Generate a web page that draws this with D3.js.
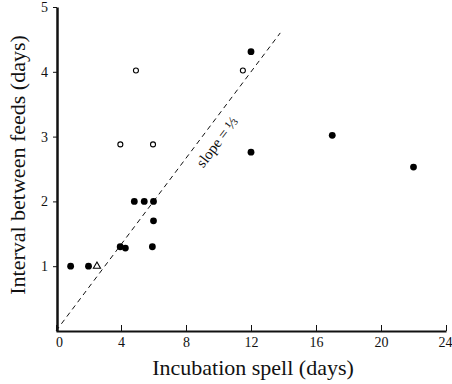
<!DOCTYPE html>
<html>
<head>
<meta charset="utf-8">
<script src="https://cdn.jsdelivr.net/npm/d3@7"></script>
<style>
  body { margin: 0; background: #fff; }
  svg text { font-family: "Liberation Serif", "DejaVu Serif", serif; fill: #111; }
</style>
</head>
<body>
<svg id="chart" width="452" height="384"></svg>
<script>
// incubation spell (days) vs interval between feeds (days)
const filledX = [0.9, 2, 3.95, 4.27, 4.82, 5.43, 6, 6, 5.93, 12, 12, 17, 22];
const filledY = [1, 1, 1.3, 1.28, 2, 2, 2, 1.7, 1.3, 4.31, 2.76, 3.02, 2.53];
const openX = [4.92, 3.96, 5.97, 11.5];
const openY = [4.02, 2.88, 2.88, 4.02];
const triX = [2.52];
const triY = [1.0];
const xTicks = [0, 4, 8, 12, 16, 20, 24];
const yTicks = [1, 2, 3, 4, 5];
const slopeEnd = 13.8; // dashed line y = x/3 up to here

const svg = d3.select("#chart");
const x = d3.scaleLinear().domain([0, 24]).range([56, 446]);
const y = d3.scaleLinear().domain([0, 5]).range([331, 7]);

// x axis, ticks pointing up
const gx = svg.append("g")
    .attr("transform", "translate(0,331)")
    .call(d3.axisBottom(x).tickValues(xTicks).tickFormat(d3.format("d"))
        .tickSizeInner(-6).tickSizeOuter(0).tickPadding(6));
gx.select(".domain").attr("stroke", "#111").attr("stroke-width", 2);
gx.selectAll(".tick line").attr("stroke", "#111");
gx.selectAll("text").attr("font-size", 14)
    .attr("dx", d => d === 0 ? 3 : (d === 24 ? -1 : 0));

// y axis
const gy = svg.append("g")
    .attr("transform", "translate(57,0)")
    .call(d3.axisLeft(y).tickValues(yTicks).tickFormat(d3.format("d"))
        .tickSizeInner(4).tickSizeOuter(0).tickPadding(5));
gy.select(".domain").attr("stroke", "#111").attr("stroke-width", 2.5);
gy.selectAll(".tick line").attr("stroke", "#111");
gy.selectAll("text").attr("font-size", 14);

// dashed slope line
svg.append("path")
    .attr("d", d3.line().x(d => x(d)).y(d => y(d / 3))([0, slopeEnd]))
    .attr("stroke", "#111")
    .attr("stroke-width", 1)
    .attr("stroke-dasharray", "5,4")
    .attr("fill", "none");

// slope label, sits just below the dashed line
const ang = -Math.atan((y(0) - y(1 / 3)) / (x(1) - x(0))) * 180 / Math.PI;
svg.append("text")
    .attr("transform", `translate(${x(9.9)},${y(2.92)}) rotate(${ang})`)
    .attr("text-anchor", "middle")
    .attr("dy", "0.35em")
    .attr("font-size", 15)
    .text("slope = \u2153");

// filled points
svg.append("g").selectAll("circle")
    .data(filledX.map((d, i) => [d, filledY[i]]))
    .join("circle")
    .attr("cx", d => x(d[0]))
    .attr("cy", d => y(d[1]))
    .attr("r", 3.4)
    .attr("fill", "#000");

// open points
svg.append("g").selectAll("circle")
    .data(openX.map((d, i) => [d, openY[i]]))
    .join("circle")
    .attr("cx", d => x(d[0]))
    .attr("cy", d => y(d[1]))
    .attr("r", 2.5)
    .attr("fill", "#fff")
    .attr("stroke", "#000")
    .attr("stroke-width", 1.1);

// open triangle
svg.append("g").selectAll("path")
    .data(triX.map((d, i) => [d, triY[i]]))
    .join("path")
    .attr("transform", d => `translate(${x(d[0])},${y(d[1])})`)
    .attr("d", d3.symbol(d3.symbolTriangle, 22))
    .attr("fill", "#fff")
    .attr("stroke", "#000")
    .attr("stroke-width", 1.1);

// axis titles
svg.append("text")
    .attr("x", 253)
    .attr("y", 375)
    .attr("text-anchor", "middle")
    .attr("font-size", 22)
    .text("Incubation spell (days)");

svg.append("text")
    .attr("transform", "translate(25,165) rotate(-90)")
    .attr("text-anchor", "middle")
    .attr("font-size", 22)
    .text("Interval between feeds (days)");
</script>
</body>
</html>
